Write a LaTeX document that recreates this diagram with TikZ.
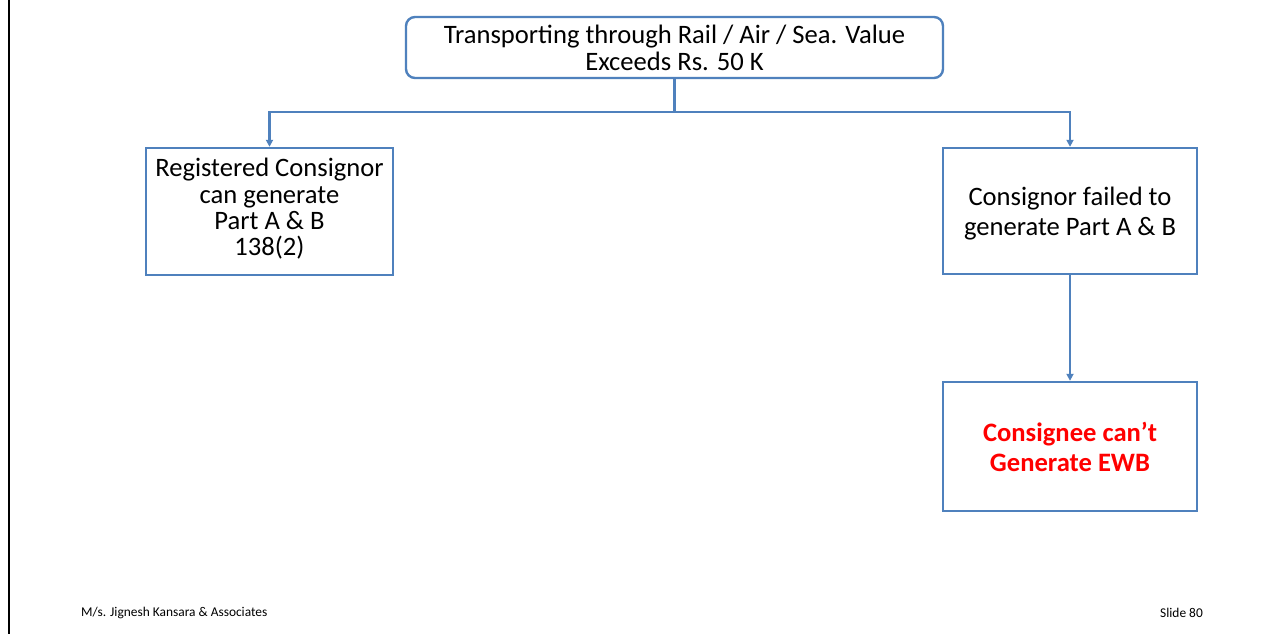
\documentclass[tikz,border=0pt]{standalone}
\usepackage{fontspec}
\setmainfont{Carlito}
\usetikzlibrary{arrows.meta}
\definecolor{linkblue}{HTML}{4F81BD}
\definecolor{alertred}{HTML}{FF0000}
\tikzset{
  box/.style={draw=linkblue, line width=2.4pt, fill=white, align=center,
    inner sep=0pt, font=\fontsize{26.6}{26.8}\selectfont},
  boxtext/.style={align=center, inner sep=0pt},
  flow/.style={draw=linkblue, line width=2.4pt,
    -{Triangle[length=7pt,width=7pt]}},
  foot/.style={font=\fontsize{13.4}{15}\selectfont, inner sep=0pt}
}
\begin{document}
\begin{tikzpicture}[x=1pt,y=-1pt]
  \useasboundingbox[fill=white] (0,0) rectangle (1283,634);
  % left frame edge of the slide
  \draw[line width=2.5pt] (9,0) -- (9,634);

  \node[box, rounded corners=9pt, minimum width=537pt, minimum height=61pt]
    (top) at (674.5,47.5) {Transporting through Rail / Air / Sea. Value\\Exceeds Rs. 50 K};
  \node[box, minimum width=247pt, minimum height=127pt,
    label={[boxtext, yshift=2.5pt, font=\fontsize{26.6}{26.3}\selectfont]center:{Registered Consignor\\can generate\\Part A \& B\\138(2)}}]
    (reg) at (269.5,211.5) {};
  \node[box, minimum width=254pt, minimum height=126pt,
    label={[boxtext, yshift=-3pt, font=\fontsize{26.6}{30}\selectfont]center:{Consignor failed to\\generate Part A \& B}}]
    (fail) at (1070,211) {};
  \node[box, minimum width=254pt, minimum height=129pt,
    font=\fontsize{26.6}{30}\selectfont\bfseries, text=alertred]
    (cons) at (1070,446.5) {Consignee can’t\\Generate EWB};

  \coordinate (split) at (674.5,112);
  \draw[flow] (top.south) -- (split) -| (reg.north);
  \draw[flow] (split) -| (fail.north);
  \draw[flow] (fail.south) -- (cons.north);

  \node[foot, anchor=west] (firm) at (81,613) {M/s. Jignesh Kansara \& Associates};
  \node[foot, anchor=east] (slide) at (1203,613) {Slide 80};
\end{tikzpicture}
\end{document}
